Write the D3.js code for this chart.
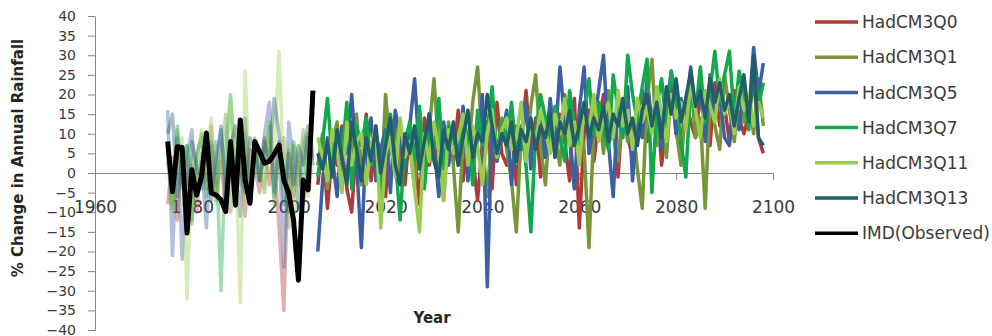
<!DOCTYPE html>
<html>
<head>
<meta charset="utf-8">
<script src="https://cdn.jsdelivr.net/npm/d3@7"></script>
<style>
  body { margin: 0; background: #fff; }
  text { font-family: "DejaVu Sans", sans-serif; }
</style>
</head>
<body>
<svg id="chart" width="992" height="336"></svg>
<script>
// model runs, one value per year from 1975 to 2098 (1975-2005 = baseline period)
const firstYear = 1975;
const baselineEnd = 2005;

const q0 = [
  -8, 4, -12, 6, -3, 2, -10, 5, -4, 7,
  -6, 3, -9, 8, -2, 4, -11, 6, 1, -5,
  9, -3, 5, -14, -35, 6, -6, 3, -8, 2,
  4, -3, 8, -9, 6, 2, 12, -4, -10, 8,
  3, 15, -2, 10, 4, -6, 13, 1, 7, -3,
  11, 5, -8, 14, 2, 9, -5, 12, 6, 3,
  16, -2, 10, 4, -7, 8, 13, -4, 18, 5,
  2, 12, -3, 9, 21, 6, 14, -1, 11, 17,
  4, 15, 8, -2, 19, -14, 10, 16, 3, 13,
  20, 7, 12, -1, 17, 9, 4, 15, 21, 8,
  11, 18, 2, 14, 22, 10, 6, 19, 13, 9,
  20, 15, 7, 23, 12, 17, 8, 21, 14, 10,
  15, 24, 9, 5
];
const q1 = [
  3, -9, 11, -4, 7, -13, 5, 9, -2, 12,
  -7, 4, 15, -10, 6, -3, 10, -6, 8, 2,
  -5, 13, -8, 4, 9, -14, 7, -3, 11, 1,
  6, 2, 10, -4, 7, 13, -2, 9, 4, 15,
  -3, 8, 12, 2, -6, 20, 5, 14, -1, 10,
  7, -4, 16, 3, 11, 24, 6, -7, 13, 2,
  -15, 9, 4, 18, 27, 8, -6, 12, 3, 14,
  6, -2, -15, 10, 4, 17, 25, 7, -3, 15,
  9, 2, 20, 11, -4, 14, 6, -19, 12, 18,
  5, 21, 10, 3, 16, 8, 13, 1, -9, 19,
  29, 7, 15, 4, 22, 11, 2, 17, 24, 9,
  14, -9, 20, 12, 6, 25, 16, 8, 21, 13,
  18, 10, 24, 12
];
const q5 = [
  16, -21, 9, -22, 4, 11, -6, 3, -14, 8,
  -3, 12, -9, 6, 2, -11, 14, -4, 7, -2,
  10, 18, -5, 8, -24, 13, 3, -9, 6, 12,
  2, -20, -2, 9, 4, -6, 11, 5, 20, 3,
  -19, 8, 14, -2, 6, 11, -5, 16, 9, 1,
  12, 24, 4, -3, 15, 7, -6, 13, 2, 10,
  5, 17, -2, 11, 8, 20, -29, 14, 3, 9,
  16, -3, 12, 6, 18, 1, 10, 15, 4, 19,
  7, 27, 13, 9, -4, 16, 27, 5, 12, 21,
  30, 8, -6, 18, 11, 22, -2, 14, 9, 24,
  13, 20, 6, 17, 26, 10, 19, 12, 27, 16,
  22, 8, 25, 14, 20, 9, 7, 18, 11, 23,
  15, 32, 20, 28
];
const q7 = [
  5, -8, 12, -3, 7, -12, 4, 10, -6, 3,
  8, -30, 6, 20, -4, 11, 2, -7, 9, -2,
  4, 12, -6, 7, 1, -10, 8, 3, -5, 10,
  6, -1, 8, 19, 3, 10, 5, 18, -4, 12,
  7, 14, 2, 11, -5, 9, 15, 4, -12, 8,
  13, 3, 17, -4, 10, 6, 19, 1, 12, 8,
  2, 14, 9, -3, 16, 7, 11, 22, 4, 13,
  8, 18, 5, 12, 2, -15, 10, 20, 14, 6,
  17, 9, 3, 21, 12, 7, 15, 24, 10, 18,
  11, 6, 25, 16, 9, 30, 20, 13, 22, 29,
  -5, 17, 24, 12, 26, 19, 8, -1, 22, 15,
  27, 13, 21, 31, 18, 25, 31, 14, 26, 20,
  11, 28, 17, 23
];
const q11 = [
  6, -10, 3, 9, -32, 4, -5, 11, 2, 14,
  -8, 5, -3, 19, 7, -33, 26, -6, 8, 3,
  -4, 10, 5, 31, -2, 7, -12, 4, 9, -6,
  3, 9, 4, -2, 11, 6, -5, 13, 2, 8,
  10, -3, 7, 12, -14, 5, 9, -1, 14, 4,
  8, -4, -15, 10, 3, 13, 6, -7, 11, 5,
  9, 15, 2, 12, 7, -3, 10, 16, 4, 11,
  14, 6, 9, 18, 3, 13, 8, 16, 11, 5,
  15, 10, 19, 7, 13, 2, 17, 11, 20, 8,
  14, 18, 9, 21, 12, 16, 6, 19, 13, 17,
  10, 22, 15, 8, 20, 14, 18, 11, 23, 16,
  9, 21, 17, 13, 24, 15, 19, 10, 22, 16,
  20, 12, 18, 14
];
const q13 = [
  10, 15, -6, 5, -12, 8, 2, -4, 9, -7,
  4, 11, -3, 7, 12, 1, -5, 9, 6, -2,
  8, 3, 19, 10, -8, 5, -3, 7, 2, 9,
  4, 5, 1, 8, -1, 11, 4, -3, 13, 6,
  -2, 9, 3, 12, 0, 7, 14, 2, -3, 10,
  5, 12, 1, 8, 15, 3, -1, 11, 6, 13,
  2, 9, 16, 4, 10, 8, 20, 12, 5, 10,
  7, 13, 3, 11, 8, 14, 6, 12, 9, 15,
  4, 13, 10, 16, 7, 12, 18, 9, 14, 11,
  17, 8, 15, 12, 19, 10, 14, 7, 16, 20,
  12, 18, 9, 22, 15, 24, 13, 19, 26, 17,
  21, 14, 24, 18, 23, 16, 20, 12, 19, 25,
  13, 30, 9, 7
];

// IMD observed, 1975-2005
const observed = [
  8.0, -4.8, 6.7, 6.5, -15.3, 0.8, -5.6, -0.9, 10.2, -5.1,
  -5.6, -6.8, -9.8, 8.0, -8.2, 13.5, -1.8, -7.7, 8.0, 5.4,
  2.5, 3.0, 4.8, 7.1, -1.8, -5.1, -12, -27.3, -1.8, -4.3,
  21
];

const modelNames = ["HadCM3Q0", "HadCM3Q1", "HadCM3Q5", "HadCM3Q7", "HadCM3Q11", "HadCM3Q13"];
const modelValues = [q0, q1, q5, q7, q11, q13];
const modelColors = ["#b03a3a", "#77963a", "#3d5fa3", "#12a84c", "#98cc4e", "#215d6b"];

const xTicks = [1960, 1980, 2000, 2020, 2040, 2060, 2080, 2100];
const yTicks = d3.range(-40, 41, 5);

const svg = d3.select("#chart");
const axisColor = "#868686";
const textColor = "#3a3a3a";

const x = d3.scaleLinear().domain([1960, 2100]).range([95, 773]);
const y = d3.scaleLinear().domain([-40, 40]).range([330, 16]);

// y axis
const yAxis = svg.append("g")
    .attr("transform", "translate(95,0)")
    .call(d3.axisLeft(y).tickValues(yTicks).tickSize(7).tickSizeOuter(0).tickPadding(12));
yAxis.select(".domain").attr("stroke", axisColor);
yAxis.selectAll(".tick line").attr("stroke", axisColor);
yAxis.selectAll(".tick text")
    .attr("fill", textColor)
    .style("font-size", "14px")
    .style("font-family", "DejaVu Sans");

// x axis crossing at 0
const xAxis = svg.append("g")
    .attr("transform", `translate(0,${y(0)})`)
    .call(d3.axisBottom(x).tickValues(xTicks).tickFormat(d3.format("d")).tickSize(7).tickSizeOuter(0).tickPadding(21));
xAxis.select(".domain").attr("stroke", axisColor);
xAxis.selectAll(".tick line").attr("stroke", axisColor);
xAxis.selectAll(".tick text")
    .attr("fill", textColor)
    .style("font-size", "17px")
    .style("font-family", "DejaVu Sans");

const line = d3.line()
    .x(d => x(d.year))
    .y(d => y(d.value));

function toPoints(values, start) {
    return values.map((v, i) => ({ year: start + i, value: v }));
}

// baseline period, drawn faded
const plot = svg.append("g");
modelValues.forEach((vals, i) => {
    const pts = toPoints(vals, firstYear).filter(d => d.year <= baselineEnd);
    plot.append("path")
        .datum(pts)
        .attr("fill", "none")
        .attr("stroke", modelColors[i])
        .attr("stroke-opacity", 0.4)
        .attr("stroke-width", 3.5)
        .attr("stroke-linejoin", "round")
        .attr("d", line);
});

// projections
modelValues.forEach((vals, i) => {
    const pts = toPoints(vals, firstYear).filter(d => d.year > baselineEnd);
    plot.append("path")
        .datum(pts)
        .attr("fill", "none")
        .attr("stroke", modelColors[i])
        .attr("stroke-width", 3.5)
        .attr("stroke-linejoin", "round")
        .attr("d", line);
});

// observed
plot.append("path")
    .datum(toPoints(observed, firstYear))
    .attr("fill", "none")
    .attr("stroke", "#000")
    .attr("stroke-width", 5)
    .attr("stroke-linejoin", "round")
    .attr("d", line);

// axis titles
svg.append("text")
    .attr("transform", "translate(23,158) rotate(-90)")
    .attr("text-anchor", "middle")
    .attr("fill", "#262626")
    .style("font-size", "15px")
    .style("font-weight", "bold")
    .text("% Change in Annual Rainfall");

svg.append("text")
    .attr("x", 432)
    .attr("y", 323)
    .attr("text-anchor", "middle")
    .attr("fill", "#262626")
    .style("font-size", "15px")
    .style("font-weight", "bold")
    .text("Year");

// legend
const legendNames = modelNames.concat(["IMD(Observed)"]);
const legendColors = modelColors.concat(["#000"]);
const legend = svg.append("g")
    .selectAll("g")
    .data(legendNames)
    .enter()
    .append("g")
    .attr("transform", (d, i) => `translate(815,${22 + i * 35.2})`);

legend.append("line")
    .attr("x1", 0)
    .attr("x2", 43)
    .attr("stroke", (d, i) => legendColors[i])
    .attr("stroke-width", 3.5);

legend.append("text")
    .attr("x", 47)
    .attr("dy", "0.36em")
    .attr("fill", textColor)
    .style("font-size", "17px")
    .text(d => d);
</script>
</body>
</html>
